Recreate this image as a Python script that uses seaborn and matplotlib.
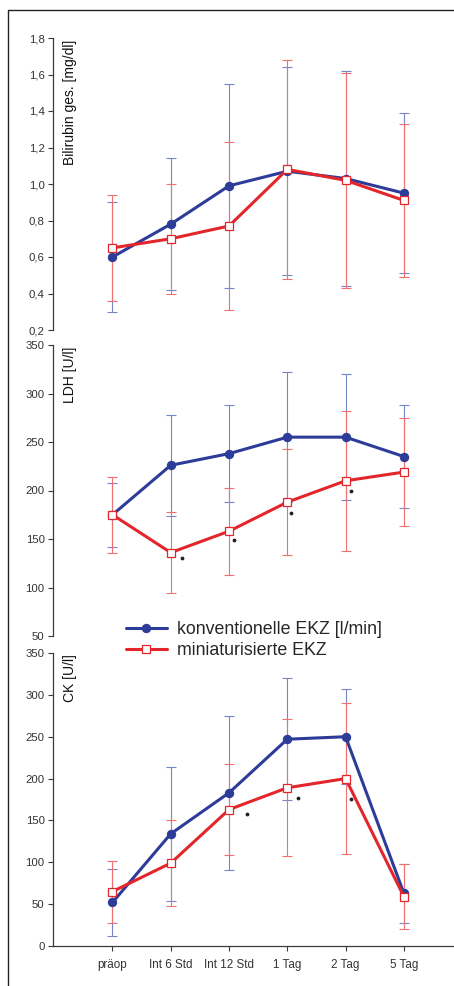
import numpy as np
import pandas as pd
import matplotlib
matplotlib.use("Agg")
import matplotlib.pyplot as plt
from matplotlib.lines import Line2D
from matplotlib.ticker import FuncFormatter
import seaborn as sns

# --- data (mean +/- SD) ---
times = ["präop", "Int 6 Std", "Int 12 Std", "1 Tag", "2 Tag", "5 Tag"]

bili_konv = [0.60, 0.78, 0.99, 1.07, 1.03, 0.95]
bili_konv_sd = [0.30, 0.36, 0.56, 0.57, 0.59, 0.44]
bili_mini = [0.65, 0.70, 0.77, 1.08, 1.02, 0.91]
bili_mini_sd = [0.29, 0.30, 0.46, 0.60, 0.59, 0.42]

ldh_konv = [175, 226, 238, 255, 255, 235]
ldh_konv_sd = [33, 52, 50, 67, 65, 53]
ldh_mini = [175, 136, 158, 188, 210, 219]
ldh_mini_sd = [39, 42, 45, 55, 72, 56]

ck_konv = [52, 134, 183, 247, 250, 63]
ck_konv_sd = [40, 80, 92, 73, 57, 35]
ck_mini = [65, 99, 163, 189, 200, 59]
ck_mini_sd = [37, 51, 54, 82, 90, 39]

# significance marks (*)
ldh_sig_x = [1.19, 2.08, 3.07, 4.09]
ldh_sig_y = [130, 149, 177, 200]
ck_sig_x = [2.30, 3.18, 4.09]
ck_sig_y = [158, 177, 176]

label_konv = "konventionelle EKZ [l/min]"
label_mini = "miniaturisierte EKZ"

BLUE = "#2d3c98"
RED = "#e3262b"
BLUE_ERR = "#7684c8"
RED_ERR = "#ef7070"
GREY = "#3a3a3a"

sns.set_style("white")
plt.rcParams["font.family"] = ["Liberation Sans", "DejaVu Sans"]

W, H = 454, 986
fig = plt.figure(figsize=(W / 100, H / 100), dpi=100)

# outer frame (left + top edge)
fig.add_artist(Line2D([8 / W, 8 / W, 1], [0, 1 - 10 / H, 1 - 10 / H],
                      transform=fig.transFigure, color="#222222", lw=1.0))


def make_ax(top_px, bottom_px, left_px=53):
    return fig.add_axes([left_px / W, 1 - bottom_px / H, (W - left_px) / W,
                         (bottom_px - top_px) / H])


def draw_panel(ax, konv, konv_sd, mini, mini_sd, ylim, yticks, ylabel, fmt=None):
    x = np.arange(len(times))
    df = pd.DataFrame({"x": np.concatenate([x, x]),
                       "wert": konv + mini,
                       "gruppe": [label_konv] * len(x) + [label_mini] * len(x)})
    ax.errorbar(x, konv, yerr=konv_sd, fmt="none", ecolor=BLUE_ERR,
                elinewidth=0.8, capsize=3.5, capthick=0.8, zorder=1)
    ax.errorbar(x, mini, yerr=mini_sd, fmt="none", ecolor=RED_ERR,
                elinewidth=0.8, capsize=3.5, capthick=0.8, zorder=1)
    sns.lineplot(data=df[df.gruppe == label_konv], x="x", y="wert", ax=ax,
                 color=BLUE, lw=2.2, marker="o", markersize=6,
                 markeredgecolor=BLUE, label=label_konv, legend=False, zorder=3)
    sns.lineplot(data=df[df.gruppe == label_mini], x="x", y="wert", ax=ax,
                 color=RED, lw=2.2, marker="s", markersize=5.3,
                 markerfacecolor="white", markeredgecolor=RED, markeredgewidth=0.9,
                 label=label_mini, legend=False, zorder=4)
    ax.set_xlim(-1.02, 5.86)
    ax.set_ylim(*ylim)
    ax.set_yticks(yticks)
    if fmt:
        ax.yaxis.set_major_formatter(FuncFormatter(fmt))
    ax.set_xlabel("")
    ax.set_ylabel("")
    ax.patch.set_alpha(0)
    for s in ["top", "right"]:
        ax.spines[s].set_visible(False)
    ax.spines["left"].set_color(GREY)
    ax.spines["left"].set_linewidth(0.9)
    ax.tick_params(axis="y", direction="out", length=3.5, width=0.8, color=GREY,
                   labelsize=8.2, labelcolor="#333333", pad=2.5, left=True)
    ax.text(0.043, 0.995, ylabel, transform=ax.transAxes, rotation=90,
            ha="center", va="top", fontsize=10, color="#111111")


ax1 = make_ax(38, 330)
draw_panel(ax1, bili_konv, bili_konv_sd, bili_mini, bili_mini_sd, (0.2, 1.8),
           np.arange(0.2, 1.81, 0.2), "Bilirubin ges. [mg/dl]",
           fmt=lambda v, p: f"{v:.1f}".replace(".", ","))
ax1.spines["bottom"].set_visible(False)
ax1.set_xticks([])

ax2 = make_ax(345, 636)
draw_panel(ax2, ldh_konv, ldh_konv_sd, ldh_mini, ldh_mini_sd, (50, 350),
           np.arange(50, 351, 50), "LDH [U/l]")
ax2.spines["bottom"].set_visible(False)
ax2.set_xticks([])
ax2.scatter(ldh_sig_x, ldh_sig_y, s=3, color="#222222", zorder=5)

ax3 = make_ax(653, 946)
draw_panel(ax3, ck_konv, ck_konv_sd, ck_mini, ck_mini_sd, (0, 350),
           np.arange(0, 351, 50), "CK [U/l]")
ax3.scatter(ck_sig_x, ck_sig_y, s=3, color="#222222", zorder=5)
ax3.spines["bottom"].set_color(GREY)
ax3.spines["bottom"].set_linewidth(0.9)
ax3.set_xticks(np.arange(len(times)))
ax3.set_xticklabels(times)
ax3.tick_params(axis="x", direction="out", length=3.5, width=0.8, color=GREY,
                labelsize=8.4, labelcolor="#333333", pad=6, bottom=True)

handles, labels = ax3.get_legend_handles_labels()
fig.legend(handles, labels, loc="upper left",
           bbox_to_anchor=(126 / W, 1 - 621 / H), bbox_transform=fig.transFigure,
           frameon=False, fontsize=12.8, handlelength=2.3, handletextpad=0.55,
           labelspacing=0.22, borderpad=0, borderaxespad=0)

fig.savefig("out.png", dpi=100)
